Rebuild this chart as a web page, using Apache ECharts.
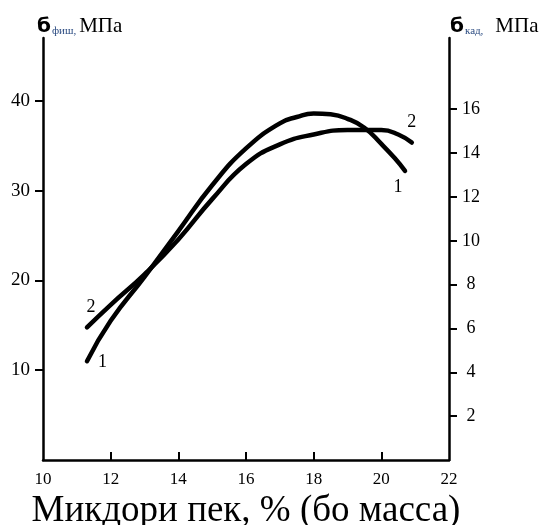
<!DOCTYPE html>
<html>
<head>
<meta charset="utf-8">
<script src="https://cdn.jsdelivr.net/npm/echarts@6/dist/echarts.min.js"></script>
<style>
  html, body { margin: 0; padding: 0; background: #fff; }
  #chart { width: 541px; height: 525px; }
</style>
</head>
<body>
<div id="chart"></div>
<script>
// Pitch content, % (by mass)
const pitchContent1 = [11.3, 12, 13, 14, 15, 16, 17, 17.5, 18, 18.5, 19, 19.5, 20, 20.4, 20.7];
// Curve 1: σ_фиш, MPa (left axis)
const strength1 = [11.0, 15.5, 20.4, 25.5, 30.6, 34.7, 37.5, 38.2, 38.6, 38.5, 38.0, 37.0, 35.2, 33.6, 32.2];

const pitchContent2 = [11.3, 12, 13, 14, 15, 16, 17, 18, 19, 20, 20.5, 20.9];
// Curve 2: σ_кад, MPa (right axis)
const strength2 = [6.05, 7.08, 8.47, 10.06, 11.9, 13.5, 14.4, 14.85, 15.05, 15.05, 14.85, 14.48];

const xTicks = [10, 12, 14, 16, 18, 20, 22];
const leftTicks = [10, 20, 30, 40];
const rightTicks = [2, 4, 6, 8, 10, 12, 14, 16];

const serif = '"Liberation Serif", "DejaVu Serif", serif';

function pairs(xs, ys) { return xs.map((x, i) => [x, ys[i]]); }

// curve number shown next to the first and last point of each line
function withEndLabels(data, startLabel, endLabel) {
  return data.map((p, i) => {
    if (i === 0) return { value: p, label: Object.assign({ show: true }, startLabel) };
    if (i === data.length - 1) return { value: p, label: Object.assign({ show: true }, endLabel) };
    return p;
  });
}

const labelBase = { fontFamily: serif, fontSize: 18, color: '#000' };

function header(text, left, gap) {
  return {
    type: 'text', left: left, top: 16,
    style: {
      text: text,
      rich: {
        s: { fontFamily: '"DejaVu Sans", sans-serif', fontWeight: 'bold', fontSize: 20, fill: '#000', verticalAlign: 'bottom' },
        sub: { fontFamily: serif, fontSize: 11, fill: '#2a4a80', verticalAlign: 'bottom', padding: [0, 0, 0, 1] },
        u: { fontFamily: serif, fontSize: 21, fill: '#000', verticalAlign: 'bottom', padding: [0, 0, 0, gap] }
      }
    }
  };
}

const chart = echarts.init(document.getElementById('chart'));
chart.setOption({
  animation: false,
  grid: { left: 43, right: 92, top: 38, bottom: 65, outerBoundsMode: 'none' },
  xAxis: {
    type: 'value', min: 10, max: 22, interval: 2,
    axisLine: { lineStyle: { color: '#000', width: 2.5 } },
    axisTick: { inside: true, length: 8, lineStyle: { color: '#000', width: 2 }, customValues: [12, 14, 16, 18, 20] },
    axisLabel: { customValues: xTicks, fontFamily: serif, fontSize: 17, color: '#000', margin: 11 },
    splitLine: { show: false },
    name: 'Микдори пек, % (бо масса)',
    nameLocation: 'middle', nameGap: 25,
    nameTextStyle: { fontFamily: serif, fontSize: 37, color: '#000' }
  },
  yAxis: [
    {
      type: 'value', min: 0, max: 47, position: 'left',
      axisLine: { show: true, lineStyle: { color: '#000', width: 2.5 } },
      axisTick: { show: true, length: 8, lineStyle: { color: '#000', width: 2 }, customValues: leftTicks },
      axisLabel: { customValues: leftTicks, fontFamily: serif, fontSize: 19, color: '#000', margin: 13 },
      splitLine: { show: false }
    },
    {
      type: 'value', min: 0, max: 19.25, position: 'right',
      axisLine: { show: true, lineStyle: { color: '#000', width: 2.5 } },
      axisTick: { show: true, length: 8, lineStyle: { color: '#000', width: 2 }, customValues: rightTicks },
      axisLabel: { customValues: rightTicks, fontFamily: serif, fontSize: 18, color: '#000', margin: 22, align: 'center' },
      splitLine: { show: false }
    }
  ],
  graphic: [
    header('{s|б}{sub|фиш,}{u|МПа}', 37, 3),
    header('{s|б}{sub|кад,}{u|МПа}', 450, 12)
  ],
  series: [
    {
      name: '1', type: 'line', yAxisIndex: 0, smooth: 0.5,
      showSymbol: true, symbol: 'circle', symbolSize: 0,
      lineStyle: { color: '#000', width: 4.5, cap: 'round', join: 'round' },
      itemStyle: { color: '#000' },
      data: withEndLabels(pairs(pitchContent1, strength1),
        Object.assign({ formatter: '1', position: 'right', offset: [6, 1] }, labelBase),
        Object.assign({ formatter: '1', position: 'bottom', offset: [-7, 2] }, labelBase)),
      label: { show: false },
      z: 3
    },
    {
      name: '2', type: 'line', yAxisIndex: 1, smooth: 0.5,
      showSymbol: true, symbol: 'circle', symbolSize: 0,
      lineStyle: { color: '#000', width: 4.5, cap: 'round', join: 'round' },
      itemStyle: { color: '#000' },
      data: withEndLabels(pairs(pitchContent2, strength2),
        Object.assign({ formatter: '2', position: 'top', offset: [4, -6] }, labelBase),
        Object.assign({ formatter: '2', position: 'top', offset: [0, -6] }, labelBase)),
      label: { show: false },
      z: 3
    }
  ]
});
</script>
</body>
</html>
